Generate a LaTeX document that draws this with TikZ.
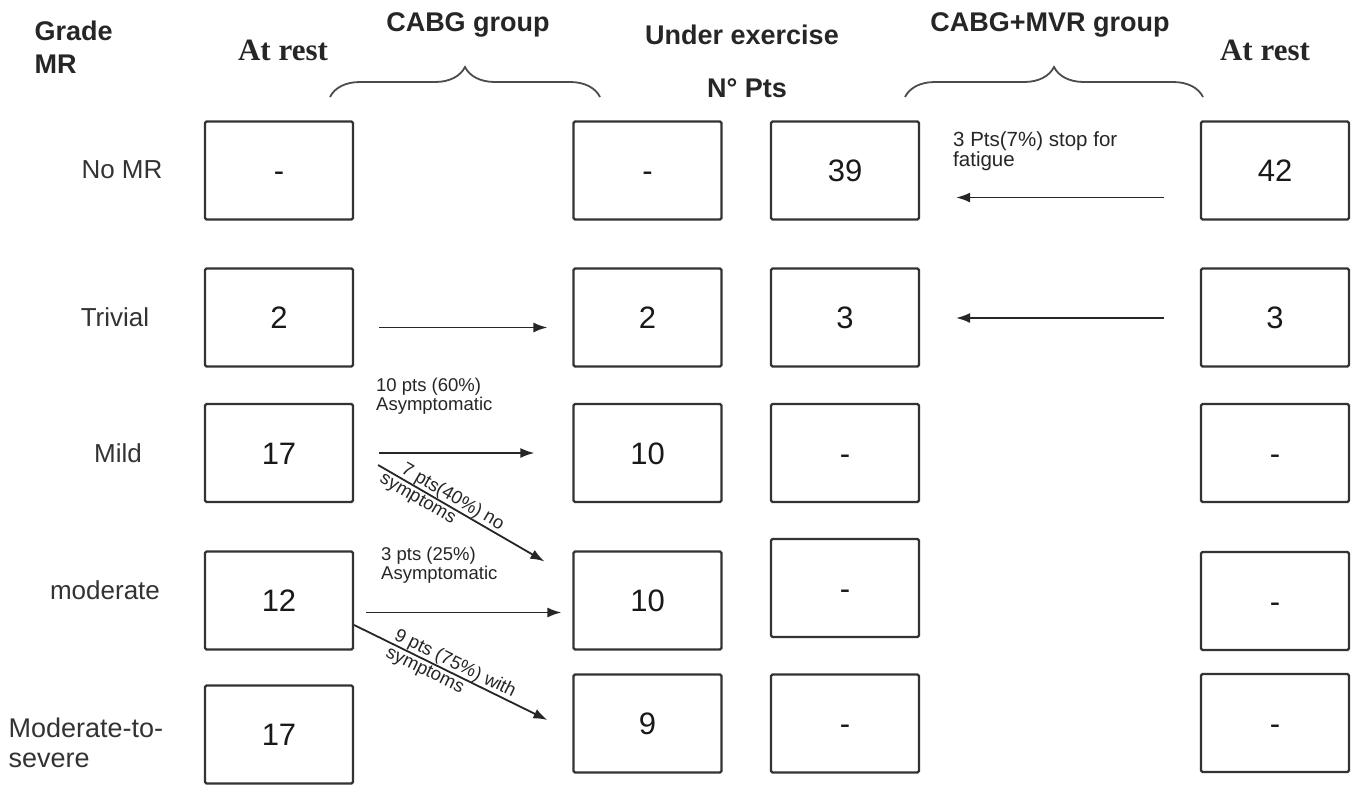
\documentclass[tikz,border=0pt]{standalone}
\usepackage{fontspec}
\setmainfont{Liberation Sans}
\newfontfamily\tmsfont{Liberation Serif}
\usetikzlibrary{arrows.meta,calc,decorations.pathreplacing}
\begin{document}
\begin{tikzpicture}[x=1pt,y=-1pt,
  box/.style={draw=black!80, line width=2.2pt, rounded corners=1.5pt, minimum width=148pt, minimum height=98pt, inner sep=0pt, text height=22.2pt, text depth=0pt, font=\fontsize{31}{31}\selectfont, text=black!90},
  rowlab/.style={font=\fontsize{26}{30}\selectfont, text=black!80},
  hdr/.style={font=\bfseries\fontsize{27}{33}\selectfont, text=black!85},
  rest/.style={font=\tmsfont\bfseries\fontsize{31}{31}\selectfont, text=black!85},
  small/.style={font=\fontsize{18.5}{19}\selectfont, text=black!85, align=left, inner sep=0pt},
  arr/.style={line width=1.8pt, draw=black!85, -{Latex[length=14pt,width=10pt]}},
  brc/.style={decorate, decoration={brace, amplitude=30pt}, line width=1.8pt, draw=black!70}
]
\fill[white] (0,0) rectangle (1355,785);
\useasboundingbox (0,0) rectangle (1355,785);

% headers
\node[hdr, align=left, anchor=north west] (grade) at (31,17) {Grade\\MR};
\node[rest] (rest1) at (283,50) {At rest};
\node[hdr] (cabg) at (468,25) {CABG group};
\node[hdr] (under) at (742,35) {Under exercise};
\node[hdr] (npts) at (747,88) {N° Pts};
\node[hdr] (cabgmvr) at (1050,25) {CABG+MVR group};
\node[rest] (rest2) at (1265,50) {At rest};
\coordinate (b1l) at (330,97); \coordinate (b1r) at (600,97);
\coordinate (b2l) at (905,97); \coordinate (b2r) at (1203,97);
\draw[brc] (b1l) -- (b1r);
\draw[brc] (b2l) -- (b2r);

% row labels
\node[rowlab] (l1) at (122,170) {No MR};
\node[rowlab] (l2) at (115,317) {Trivial};
\node[rowlab] (l3) at (118,453) {Mild};
\node[rowlab] (l4) at (105,590) {moderate};
\node[rowlab, align=left, anchor=west, font=\fontsize{27}{30}\selectfont] (l5) at (5,743) {Moderate-to-\\severe};

% boxes
\node[box] (a1) at (279,170.5) {-};
\node[box] (a2) at (279,317.5) {2};
\node[box] (a3) at (279,453) {17};
\node[box] (a4) at (279,600.5) {12};
\node[box] (a5) at (279,734.5) {17};

\node[box] (b1) at (647.5,170.5) {-};
\node[box] (b2) at (647.5,317.5) {2};
\node[box] (b3) at (647.5,453) {10};
\node[box] (b4) at (647.5,600.5) {10};
\node[box] (b5) at (647.5,723.5) {9};

\node[box] (c1) at (845,170.5) {39};
\node[box] (c2) at (845,317.5) {3};
\node[box] (c3) at (845,453) {-};
\node[box] (c4) at (845,588) {-};
\node[box] (c5) at (845,723.5) {-};

\node[box] (d1) at (1275,170.5) {42};
\node[box] (d2) at (1275,317.5) {3};
\node[box] (d3) at (1275,453) {-};
\node[box] (d4) at (1275,601) {-};
\node[box] (d5) at (1275,723) {-};

% arrows
\draw[arr] ($(d1.west)+(-36,27)$) -- ($(c1.east)+(36,27)$);
\node[small, anchor=north west, font=\fontsize{20.5}{20}\selectfont] (t1) at (953,131) {3 Pts(7\%) stop for\\fatigue};
\draw[arr] ($(d2.west)+(-36,0.5)$) -- ($(c2.east)+(36,0.5)$);
\draw[arr] ($(a2.east)+(25,10)$) -- ($(b2.west)+(-25,10)$);

\node[small, anchor=north west] (t2) at (376,378) {10 pts (60\%)\\Asymptomatic};
\draw[arr] ($(a3.east)+(25,0)$) -- ($(b3.west)+(-38,0)$);
\draw[arr] ($(a3.east)+(24,12)$) -- node[small, sloped, pos=0.42] (t3) {7 pts(40\%) no\\\hspace*{-14pt}symptoms} ($(b4.north west)+(-28,11)$);

\node[small, anchor=north west] (t4) at (381,547) {3 pts (25\%)\\Asymptomatic};
\draw[arr] ($(a4.east)+(12,12)$) -- ($(b4.west)+(-11,12)$);
\draw[arr] ($(a4.east)+(0,24.5)$) -- node[small, sloped, midway] (t5) {9 pts (75\%) with\\symptoms} ($(b5.west)+(-25,-3.5)$);
\end{tikzpicture}
\end{document}
